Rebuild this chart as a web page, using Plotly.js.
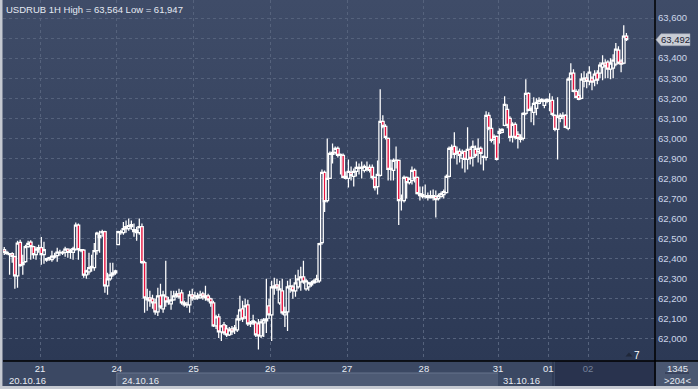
<!DOCTYPE html>
<html><head><meta charset="utf-8">
<script src="https://cdn.plot.ly/plotly-3.0.1.min.js"></script>
<style>
html,body{margin:0;padding:0;background:#c5c9d1;}
#chart{width:698px;height:389px;background:linear-gradient(to bottom,#3f4c68 0px,#2c3955 361px,#2c3955 389px);}
</style></head><body><div id="chart"></div>
<script>
// ---- data ----
const symbol = 'USDRUB 1H';
const dayLabels = ['21','24','25','26','27','28','31','01','02'];
const dayStart  = [14, 43, 72, 101, 130, 159, 187, 206, 221];
const weekLabels = ['20.10.16','24.10.16','31.10.16'];
const weekStart  = [0, 43, 187];
const priceTicks = [62000,62100,62200,62300,62400,62500,62600,62700,62800,62900,63000,63100,63200,63300,63400,63500,63600];
const barsCount = '1345';
const visibleBars = '>204<';
const markerCount = '7';

const open = [
 62445,62432,62425,62425,62410,62315,62482,62370,62385,62460,62483,62460,62420,62448,
 62455,62420,62393,62400,62395,62413,62415,62430,62432,62432,62448,62432,62432,62448,62568,62445,62443,62320,62335,62355,62355,62440,62505,62530,62535,62265,62300,62320,62330,
 62470,62530,62530,62560,62550,62560,62545,62540,62530,62560,62380,62195,62205,62200,62180,62135,62215,62150,62210,62185,62175,62195,62215,62225,62230,62180,62170,62170,62220,
 62200,62205,62205,62225,62205,62215,62200,62180,62065,62110,62035,62070,62050,62020,62050,62055,62045,62100,62150,62110,62170,62075,62080,62080,62075,62015,62080,62090,62165,
 62120,62255,62270,62180,62240,62120,62135,62250,62260,62240,62260,62285,62310,62250,62260,62270,62280,62285,62290,62480,62830,62690,62800,62920,62930,62950,62915,62915,62800,
 62800,62830,62810,62835,62850,62855,62840,62845,62855,62855,62805,62760,62815,63085,63060,63000,62845,62840,62890,62890,62700,62690,62805,62780,62790,62840,62805,62725,62710,
 62710,62705,62705,62715,62710,62700,62710,62720,62730,62810,62945,62960,62925,62935,62900,62935,62895,62945,62905,62945,62935,62950,62905,62905,63115,63050,62995,63010,
 63025,63030,63065,63145,63100,63010,63070,63020,62995,63000,63125,63225,63140,63130,63150,63175,63185,63165,63185,
 63190,63190,63115,63045,63100,63115,63115,63050,63295,63325,63235,63215,63200,63285,63300,
 63285,63300,63290,63325,63325,63355,63375,63380,63345,63350,63370,63440,63385,63375,63510
];
const high = [
 62458,62440,62428,62432,62415,62490,62495,62420,62470,62490,62492,62465,62460,62470,
 62508,62485,62405,62410,62440,62430,62455,62445,62440,62460,62452,62450,62460,62580,62575,62448,62448,62345,62430,62420,62478,62535,62540,62545,62540,62330,62380,62380,62345,
 62540,62545,62583,62590,62600,62590,62575,62560,62600,62575,62390,62250,62240,62220,62200,62255,62275,62240,62390,62210,62240,62240,62240,62250,62245,62190,62185,62240,62250,
 62235,62230,62240,62235,62265,62225,62205,62190,62120,62125,62070,62085,62070,62060,62065,62070,62120,62215,62190,62200,62195,62090,62120,62090,62100,62100,62105,62300,62200,
 62290,62305,62300,62290,62300,62160,62290,62300,62270,62320,62345,62360,62390,62300,62285,62290,62300,62320,62480,62845,62840,63000,62935,62975,62960,62960,62925,62925,62835,
 62895,62860,62850,62885,62875,62885,62870,62885,62870,62870,62810,62890,63245,63115,63070,63005,62895,62900,62960,62895,62720,62815,62810,62805,62860,62850,62810,62760,62760,
 62770,62730,62740,62745,62740,62725,62735,62745,62820,62960,62970,63030,62960,62950,62945,62940,63055,62960,62990,62965,63000,62960,62915,63135,63130,63100,63020,63015,
 63050,63050,63210,63170,63110,63080,63080,63035,63020,63130,63295,63230,63160,63205,63200,63205,63200,63195,63200,
 63225,63210,63120,63205,63125,63130,63120,63305,63375,63345,63245,63245,63325,63335,63325,
 63360,63310,63340,63340,63380,63415,63395,63390,63400,63420,63475,63460,63395,63564,63525
];
const low = [
 62418,62420,62320,62380,62250,62255,62360,62320,62380,62455,62395,62400,62395,62430,
 62370,62375,62385,62390,62385,62400,62385,62415,62418,62410,62405,62400,62395,62440,62395,62432,62305,62300,62320,62335,62340,62420,62430,62510,62230,62220,62290,62310,62320,
 62468,62520,62520,62530,62540,62545,62510,62490,62520,62375,62130,62140,62160,62150,62120,62115,62150,62130,62160,62170,62145,62190,62205,62200,62170,62160,62155,62130,62190,
 62195,62195,62200,62195,62190,62185,62160,62060,62050,62005,61990,62020,62010,62015,62020,62025,62035,62090,62085,62100,62065,62060,62070,62010,61947,62005,62010,62030,62100,
 61990,62220,62240,62170,62120,62060,62040,62230,62200,62210,62250,62240,62275,62240,62240,62260,62275,62280,62280,62470,62633,62680,62800,62875,62920,62905,62820,62800,62795,
 62755,62790,62760,62810,62820,62800,62830,62835,62830,62795,62740,62720,62810,63050,62995,62790,62790,62790,62850,62568,62640,62680,62700,62770,62770,62780,62720,62690,62700,
 62700,62690,62700,62690,62605,62690,62705,62700,62725,62805,62900,62900,62870,62880,62850,62830,62845,62870,62860,62905,62880,62870,62840,62890,63040,62980,62970,62890,
 62975,63025,63060,63050,62985,62980,62995,62950,62980,62990,63115,63135,63080,63065,63115,63170,63180,63150,63175,
 63135,63110,63035,62895,63080,63095,63050,63040,63290,63230,63200,63190,63195,63255,63250,
 63265,63240,63260,63270,63300,63290,63300,63300,63295,63300,63360,63370,63330,63370,63485
];
const close = [
 62432,62425,62420,62412,62315,62478,62365,62380,62460,62476,62460,62420,62448,62455,
 62420,62445,62400,62405,62413,62408,62433,62432,62428,62448,62432,62440,62450,62568,62445,62440,62318,62340,62355,62362,62440,62528,62515,62535,62265,62300,62320,62330,62340,
 62535,62535,62550,62550,62565,62570,62535,62530,62560,62380,62205,62205,62190,62180,62135,62215,62160,62220,62185,62190,62195,62215,62225,62210,62180,62170,62172,62220,62205,
 62215,62215,62220,62210,62215,62195,62180,62065,62110,62035,62065,62030,62020,62045,62035,62045,62100,62145,62100,62165,62075,62080,62090,62020,62015,62085,62095,62100,62120,
 62260,62265,62255,62250,62130,62135,62260,62265,62240,62280,62300,62310,62285,62290,62280,62280,62290,62300,62475,62830,62685,62800,62925,62930,62950,62915,62920,62805,62810,
 62835,62815,62835,62855,62855,62850,62860,62855,62840,62805,62755,62820,63085,63060,63005,62845,62850,62890,62892,62690,62700,62805,62780,62800,62840,62800,62725,62715,62720,
 62712,62715,62715,62705,62695,62715,62725,62735,62810,62950,62955,62920,62935,62915,62930,62895,62945,62900,62960,62915,62950,62925,62910,63115,63050,62990,63010,62895,
 63035,63045,63170,63065,63005,63070,63005,63000,63005,63125,63225,63140,63150,63175,63180,63190,63195,63190,63195,
 63185,63120,63045,63110,63115,63110,63055,63295,63325,63235,63205,63195,63295,63300,63285,
 63330,63280,63320,63290,63365,63375,63360,63345,63375,63390,63445,63375,63370,63510,63492
];

// ---- geometry ----
const W = 698, H = 389, mL = 3, mR = 43, mT = 0, mB = 28;
const pw = W - mL - mR, ph = H - mT - mB;
const xr = [-0.48, 245.8];
const yr = [61890, 63690];
const px = x => (x - mL) / pw;          // pixel -> paper x
const py = y => (H - mB - y) / ph;      // pixel -> paper y
const ix = i => (i - xr[0]) / (xr[1] - xr[0]); // index -> paper x
const vy = v => (v - yr[0]) / (yr[1] - yr[0]); // value -> paper y

const idx = open.map((_, i) => i);
const fmt = v => v.toLocaleString('en-US');
const hi = Math.max(...high), lo = Math.min(...low);
const last = close[close.length - 1];

const FONT = 'Liberation Sans, Arial, sans-serif';
const gridC = '#55627c';

const tickText = dayLabels.map((d, k) => k === dayLabels.length - 1 ? '<span style="color:#75819a">' + d + '</span>' : d);
// the tick label that sits under the current-price box is hidden (its grid line stays)
const priceText = priceTicks.map(v => Math.abs(v - last) < 50 ? '' : fmt(v));

const bounds = weekStart.map(i => i - 0.5);
const shapes = [
  // x-axis panel base
  {type:'rect', xref:'paper', yref:'paper', x0:0, x1:1, y0:py(386), y1:0, fillcolor:'#3b4863', line:{width:0}, layer:'below'},
  // week box 24.10.16
  {type:'rect', xref:'paper', yref:'paper', x0:ix(bounds[1]), x1:ix(bounds[2]), y0:py(386), y1:py(373), fillcolor:'#4d5a74', line:{width:0}, layer:'below'},
  {type:'line', xref:'paper', yref:'paper', x0:ix(bounds[1]), x1:ix(bounds[2]), y0:py(373), y1:py(373), line:{color:'#67738c', width:1}, layer:'below'},
  {type:'line', xref:'paper', yref:'paper', x0:ix(bounds[1]), x1:ix(bounds[1]), y0:py(386), y1:py(373), line:{color:'#67738c', width:1}, layer:'below'},
  // dark region on the right
  {type:'rect', xref:'paper', yref:'paper', x0:px(555), x1:1, y0:py(386), y1:0, fillcolor:'#29334e', line:{width:0}, layer:'below'},
  {type:'line', xref:'paper', yref:'paper', x0:px(553), x1:px(553), y0:py(386), y1:0, line:{color:'#27304a', width:1}, layer:'below'},
  // bottom-right box
  {type:'rect', xref:'paper', yref:'paper', x0:px(656), x1:px(698), y0:py(386), y1:0, fillcolor:'#4a5771', line:{width:0}, layer:'below'},
  {type:'line', xref:'paper', yref:'paper', x0:px(665), x1:px(689), y0:py(373), y1:py(373), line:{color:'#28304a', width:1}, layer:'above'},
  // black separators
  {type:'line', xref:'paper', yref:'paper', x0:1, x1:1, y0:py(386), y1:1, line:{color:'#000000', width:1.5}, layer:'above'},
  {type:'line', xref:'paper', yref:'paper', x0:0, x1:px(698), y0:0, y1:0, line:{color:'#000000', width:1.5}, layer:'above'},
  // frame
  {type:'rect', xref:'paper', yref:'paper', x0:px(0), x1:px(698), y0:py(389), y1:py(386), fillcolor:'#c5c9d1', line:{width:0}, layer:'above'},
  {type:'rect', xref:'paper', yref:'paper', x0:px(0), x1:px(2.5), y0:py(389), y1:1, fillcolor:'#c5c9d1', line:{width:0}, layer:'above'},
];
// current price marker
const yc = ph * (1 - vy(last));
const P = (x, y) => px(x) + ',' + py(y);
shapes.push({type:'path', xref:'paper', yref:'paper', layer:'above',
  path:'M' + P(656, yc) + ' L' + P(661, yc - 6) + ' L' + P(690, yc - 6) + ' L' + P(690, yc + 6) + ' L' + P(661, yc + 6) + ' Z',
  fillcolor:'#c9cdd5', line:{color:'#9aa1ae', width:0.5}});
// small triangle near marker count
shapes.push({type:'path', xref:'paper', yref:'paper', layer:'above',
  path:'M' + P(625.5, 356.5) + ' L' + P(632.5, 356.5) + ' L' + P(629, 352.5) + ' Z',
  fillcolor:'#1f2739', line:{width:0}});

const annotations = [
  {xref:'paper', yref:'paper', x:px(4), y:1, xanchor:'left', yanchor:'top', yshift:-2, showarrow:false,
   text: symbol + ' High = ' + fmt(hi) + ' Low = ' + fmt(lo), font:{family:FONT, size:9.5, color:'#e4e9f2'}},
  {xref:'paper', yref:'paper', x:px(675.5), y:vy(last), xanchor:'center', yanchor:'middle', showarrow:false,
   text: fmt(last), font:{family:FONT, size:9.5, color:'#1a2133'}},
  {xref:'paper', yref:'paper', x:px(677), y:py(368), xanchor:'center', yanchor:'middle', showarrow:false,
   text: barsCount, font:{family:FONT, size:9.5, color:'#e6eaf2'}},
  {xref:'paper', yref:'paper', x:px(677), y:py(380), xanchor:'center', yanchor:'middle', showarrow:false,
   text: visibleBars, font:{family:FONT, size:9.5, color:'#e6eaf2'}},
  {xref:'paper', yref:'paper', x:px(637), y:py(355), xanchor:'center', yanchor:'middle', showarrow:false,
   text: markerCount, font:{family:FONT, size:10, color:'#ffffff'}},
];
weekLabels.forEach((t, k) => {
  annotations.push({xref:'paper', yref:'paper', x: k === 0 ? px(7) : ix(bounds[k]), xshift: k === 0 ? 0 : 3,
    y:py(380), xanchor:'left', yanchor:'middle', showarrow:false, text:t,
    font:{family:FONT, size:9.5, color:'#e6eaf2'}});
});

const trace = {
  type:'candlestick', x:idx, open:open, high:high, low:low, close:close,
  increasing:{line:{color:'#ffffff', width:1.25}, fillcolor:'rgba(0,0,0,0)'},
  decreasing:{line:{color:'#ffffff', width:1.25}, fillcolor:'#e8123e'},
  whiskerwidth:0, hoverinfo:'skip', showlegend:false
};

const layout = {
  width:W, height:H, margin:{l:mL, r:mR, t:mT, b:mB, pad:0},
  paper_bgcolor:'rgba(0,0,0,0)', plot_bgcolor:'rgba(0,0,0,0)',
  showlegend:false, hovermode:false, boxgap:0, boxgroupgap:0,
  font:{family:FONT, size:9.5, color:'#e6eaf2'},
  xaxis:{type:'linear', range:xr, tickmode:'array', tickvals:dayStart.map(i => i - 0.5), ticktext:tickText,
    showgrid:true, gridcolor:gridC, griddash:'3px,3px', gridwidth:1, zeroline:false, showline:false,
    ticks:'', tickfont:{family:FONT, size:9.5, color:'#e8ecf4'}, rangeslider:{visible:false}, fixedrange:true},
  yaxis:{side:'right', range:yr, tickmode:'array', tickvals:priceTicks, ticktext:priceText,
    showgrid:true, gridcolor:gridC, griddash:'3px,3px', gridwidth:1, zeroline:false, showline:false,
    ticks:'', ticklabelstandoff:2, tickfont:{family:FONT, size:9.5, color:'#cdd7ea'}, fixedrange:true},
  shapes:shapes, annotations:annotations
};

Plotly.newPlot('chart', [trace], layout, {staticPlot:true, displayModeBar:false});
</script></body></html>
